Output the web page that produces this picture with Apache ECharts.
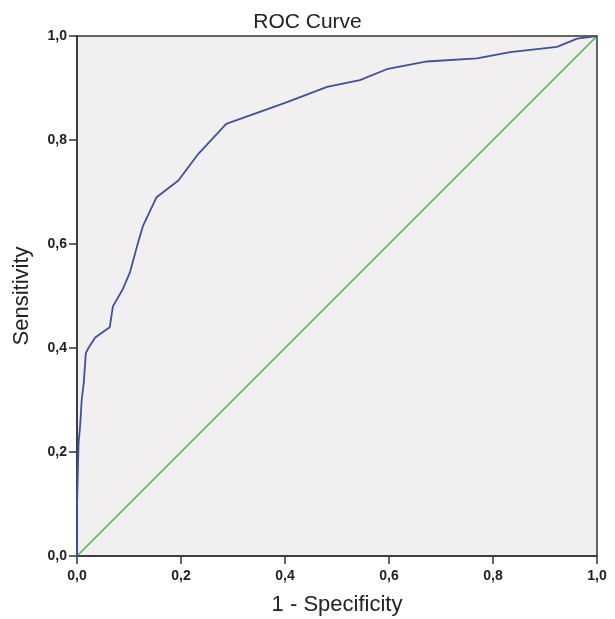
<!DOCTYPE html>
<html>
<head>
<meta charset="utf-8">
<script src="https://cdn.jsdelivr.net/npm/echarts@6/dist/echarts.min.js"></script>
<style>html,body{margin:0;padding:0;background:#fff}#c{width:615px;height:619px}</style>
</head>
<body>
<div id="c"></div>
<script>
const rocX = [0, 0, 0.003, 0.006, 0.009, 0.013, 0.017, 0.022, 0.035, 0.063, 0.069, 0.088, 0.102, 0.115, 0.127, 0.153, 0.195, 0.233, 0.287, 0.404, 0.481, 0.544, 0.598, 0.673, 0.769, 0.833, 0.923, 0.962, 1.0];
const rocY = [0, 0.095, 0.217, 0.25, 0.30, 0.333, 0.39, 0.40, 0.42, 0.44, 0.48, 0.513, 0.546, 0.594, 0.635, 0.69, 0.722, 0.773, 0.831, 0.873, 0.902, 0.915, 0.937, 0.951, 0.957, 0.969, 0.979, 0.995, 1.0];
const refX = [0, 1];
const refY = [0, 1];
const tickValues = [0, 0.2, 0.4, 0.6, 0.8, 1.0];

const fmt = v => v.toFixed(1).replace('.', ',');
const chart = echarts.init(document.getElementById('c'), null, {renderer: 'canvas'});
const axisCommon = {
  type: 'value', min: 0, max: 1, interval: 0.2,
  nameLocation: 'middle',
  nameTextStyle: {fontFamily: 'Liberation Sans', fontSize: 22, color: '#222'},
  axisLine: {show: true, lineStyle: {color: '#333', width: 1.5}},
  axisTick: {show: true, length: 8, lineStyle: {color: '#333', width: 1.5}},
  axisLabel: {formatter: fmt, fontFamily: 'Liberation Sans', fontWeight: 'bold', fontSize: 14, color: '#222'},
  splitLine: {show: false}
};
chart.setOption({
  animation: false,
  title: {text: 'ROC Curve', left: 'center', top: 7, textStyle: {fontFamily: 'Liberation Sans', fontWeight: 'normal', fontSize: 21, color: '#222'}},
  grid: {left: 77, right: 18, top: 36, bottom: 63, show: true, containLabel: false, outerBoundsMode: 'none', backgroundColor: '#f1efef', borderColor: '#333', borderWidth: 1.5},
  xAxis: Object.assign({}, axisCommon, {name: '1 - Specificity', nameGap: 38, axisLabel: Object.assign({}, axisCommon.axisLabel, {margin: 13})}),
  yAxis: Object.assign({}, axisCommon, {name: 'Sensitivity', nameGap: 44, axisLabel: Object.assign({}, axisCommon.axisLabel, {margin: 10})}),
  series: [
    {type: 'line', data: refX.map((x, i) => [x, refY[i]]), showSymbol: false, lineStyle: {color: '#3db34a', width: 1.5}, z: 2},
    {type: 'line', data: rocX.map((x, i) => [x, rocY[i]]), showSymbol: false, lineStyle: {color: '#3d51a0', width: 1.8}, z: 3}
  ]
});
</script>
</body>
</html>
